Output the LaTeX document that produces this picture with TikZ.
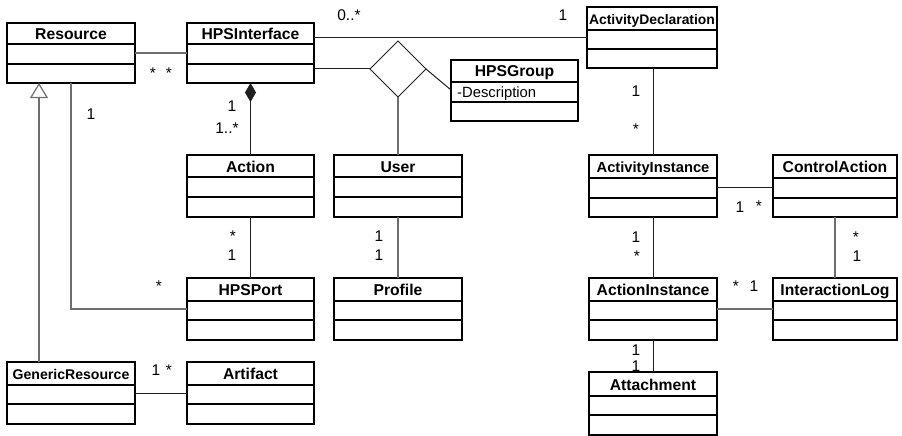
\documentclass[tikz,border=0pt]{standalone}
\usepackage{fontspec}
\setmainfont{Liberation Sans}
\usetikzlibrary{arrows.meta,shapes.geometric}

\definecolor{darkline}{HTML}{202020}
\definecolor{greyline}{HTML}{6E6E6E}

\tikzset{
  classbox/.style={draw=black, line width=1.6pt, inner sep=0pt, outer sep=0pt, fill=white},
  classrule/.style={draw=black, line width=1.6pt},
  classname/.style={inner sep=0pt, text height=11pt, text depth=0pt},
  attrtext/.style={inner sep=0pt, font=\fontsize{14.8}{16}\selectfont},
  darkconn/.style={draw=darkline, line width=1pt},
  greyconn/.style={draw=greyline, line width=1.3pt},
  lbl/.style={inner sep=0pt, text height=11pt, text depth=0pt, font=\fontsize{15.5}{16}\selectfont},
  star/.style={lbl, yshift=-3.3pt},
  narybox/.style={diamond, draw=darkline, line width=1pt, minimum size=56pt, inner sep=0pt, outer sep=0pt, fill=white}
}

% class box: name, left, top, right, bottom, first rule, second rule, font size, title
\newcommand\umlclass[9]{%
  \node[classbox, minimum width={(#4-#2)*1pt}, minimum height={(#5-#3)*1pt}] (#1) at ({(#2+#4)/2},{(#3+#5)/2}) {};
  \draw[classrule] (#2,#6) -- (#4,#6) (#2,#7) -- (#4,#7);
  \node[classname, font=\bfseries\fontsize{#8}{#8}\selectfont] (#1-name) at ({(#2+#4)/2},{(#3+#6)/2+0.5}) {#9};
}

\begin{document}
\begin{tikzpicture}[x=1pt, y=-1pt]
\useasboundingbox (0,0) rectangle (902,436);

% classes
\umlclass{res}{7}{23}{135}{83}{44}{64}{15.7}{Resource}
\umlclass{hpi}{187}{23}{314}{83}{44}{64}{15.7}{HPSInterface}
\umlclass{adecl}{587}{7}{717}{68}{30}{49}{13.9}{ActivityDeclaration}
\umlclass{grp}{451}{60}{578}{121}{82}{102}{15.7}{HPSGroup}
\node[attrtext, anchor=base west] (grp-attr) at (457,97) {-Description};
\umlclass{act}{187}{155}{314}{217}{177}{197}{15.7}{Action}
\umlclass{user}{334}{155}{462}{217}{177}{197}{15.7}{User}
\umlclass{port}{187}{278}{314}{340}{301}{320}{15.7}{HPSPort}
\umlclass{prof}{334}{278}{462}{340}{301}{320}{15.7}{Profile}
\umlclass{gen}{7}{362}{135}{424}{385}{404}{14.1}{GenericResource}
\umlclass{art}{187}{362}{314}{424}{385}{404}{15.7}{Artifact}
\umlclass{ainst}{589}{155}{717}{217}{178}{198}{14.7}{ActivityInstance}
\umlclass{ctrl}{773}{155}{897}{217}{178}{198}{15.7}{ControlAction}
\umlclass{acti}{589}{278}{717}{340}{301}{320}{15.7}{ActionInstance}
\umlclass{ilog}{773}{278}{897}{340}{301}{320}{15.7}{InteractionLog}
\umlclass{att}{589}{372}{717}{435}{396}{415}{15.7}{Attachment}

% n-ary association
\node[narybox] (nary) at (398,69) {};

% connectors
\draw[greyconn] (res.east |- 0,53) -- (hpi.west |- 0,53);
\draw[greyconn, -{Triangle[open, length=15pt, width=18pt, line width=1.2pt]}] (gen.north -| 39,0) -- (res.south -| 39,0);
\draw[greyconn] (res.south) |- (port.west);
\draw[darkconn] (hpi.east |- 0,38) -- (adecl.west |- 0,38);
\draw[darkconn] (hpi.east |- nary.west) -- (nary.west);
\draw[darkconn] (nary.east) -- (grp.west |- 0,90);
\draw[greyconn] (nary.south) -- (user.north);
\draw[darkconn, {Diamond[length=19pt, width=11pt]}-] (hpi.south) -- (act.north);
\draw[darkconn] (act.south) -- (port.north);
\draw[greyconn] (user.south) -- (prof.north);
\draw[darkconn] (gen.east |- 0,393) -- (art.west |- 0,393);
\draw[darkconn] (ainst.north |- adecl.south) -- (ainst.north);
\draw[darkconn] (ainst.east |- 0,187) -- (ctrl.west |- 0,187);
\draw[darkconn] (ainst.south) -- (acti.north);
\draw[greyconn] (ctrl.south) -- (ilog.north);
\draw[greyconn] (acti.east) -- (ilog.west);
\draw[darkconn] (acti.south) -- (att.north);

% multiplicities
\node[star] (m1) at (153,70) {*};
\node[star] (m2) at (169,70) {*};
\node[lbl] (m3) at (91,114) {1};
\node[lbl] (m4) at (232,106) {1};
\node[lbl] (m5) at (227,128) {1..*};
\node[lbl] (m6) at (349,15) {0..*};
\node[lbl] (m7) at (563,15) {1};
\node[lbl] (m8) at (636,91) {1};
\node[star] (m9) at (636,126) {*};
\node[star] (m10) at (233,233) {*};
\node[lbl] (m11) at (232,255) {1};
\node[star] (m12) at (159,283) {*};
\node[lbl] (m13) at (379,236) {1};
\node[lbl] (m14) at (379,255) {1};
\node[lbl] (m15) at (740,207) {1};
\node[star] (m16) at (759,203) {*};
\node[lbl] (m17) at (636,237) {1};
\node[star] (m18) at (637,253) {*};
\node[star] (m19) at (856,234) {*};
\node[lbl] (m20) at (857,256) {1};
\node[star] (m21) at (736,283) {*};
\node[lbl] (m22) at (754,286) {1};
\node[lbl] (m23) at (636,350) {1};
\node[lbl] (m24) at (636,366) {1};
\node[lbl] (m25) at (156,370) {1};
\node[star] (m26) at (169,367) {*};
\end{tikzpicture}
\end{document}
